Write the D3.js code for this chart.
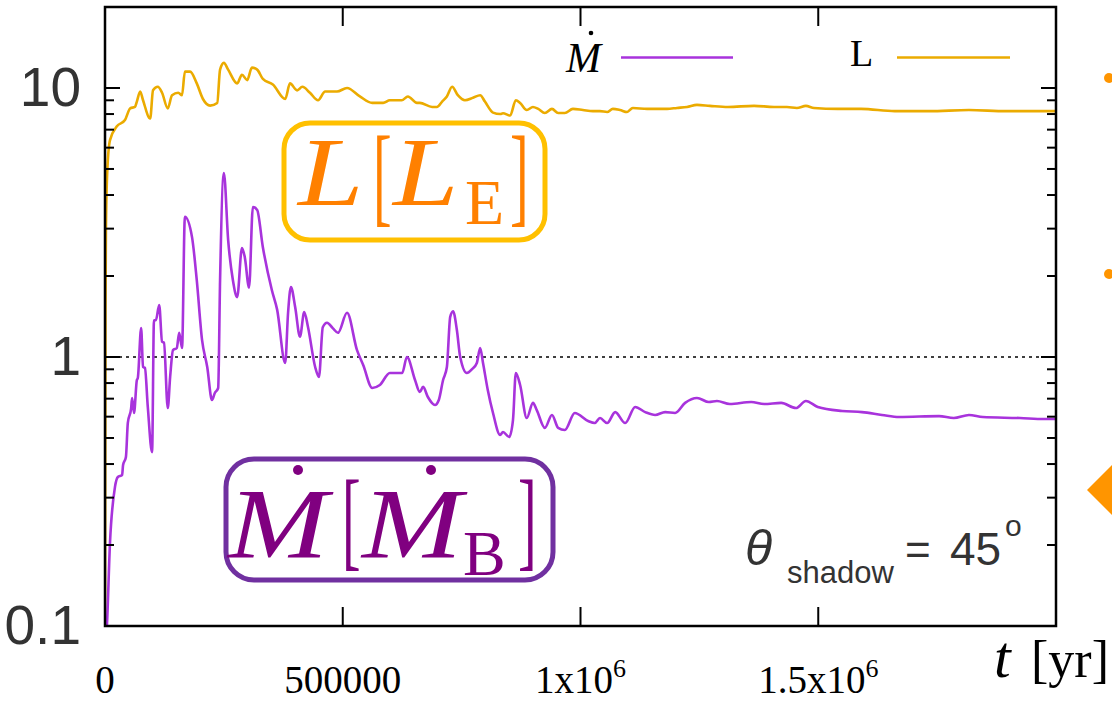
<!DOCTYPE html>
<html lang="en">
<head>
    <meta charset="UTF-8">
    <title>Mdot and L vs t</title>
    <script src="https://d3js.org/d3.v7.min.js"></script>
    <style>
        body, html {
            margin: 0;
            background-color: #ffffff;
            overflow: hidden;
        }
        .serif { font-family: 'Liberation Serif', 'Times New Roman', serif; }
        .sans { font-family: 'Liberation Sans', Arial, sans-serif; }
    </style>
</head>
<body>
<svg id="chart" width="1112" height="704"></svg>

<script>
    // time in kyr, values in units of L_E / Mdot_B
    const lumTime = [0, 1, 2, 5, 10.5, 25, 42, 53, 63, 67, 74, 80, 95, 101, 111, 120, 132, 141, 154, 162,
        168, 179, 193, 206, 221, 236, 242, 250, 259, 278, 288, 299, 309, 320, 332, 353, 379, 389, 404, 415,
        431, 448, 463, 488, 509, 536, 562, 585, 599, 624, 637, 656, 662, 688, 698, 709, 719, 730, 742, 757,
        774, 789, 799, 816, 831, 837, 852, 864, 873, 887, 900, 911, 925, 940, 953, 967, 984, 1005, 1026, 1041,
        1056, 1068, 1083, 1098, 1110, 1140, 1182, 1203, 1224, 1245, 1272, 1310, 1365, 1407, 1434, 1455, 1474, 1491, 1541, 1590,
        1661, 1733, 1817, 1895, 2000];
    const lumValue = [0.1, 1.5, 3.0, 5.0, 6.4, 7.2, 7.6, 8.4, 8.5, 8.9, 9.7, 9.0, 7.7, 9.8, 10.1, 9.6, 8.4, 9.4, 9.6, 9.4,
        11.5, 11.5, 10.4, 9.1, 8.6, 8.8, 11.7, 12.4, 11.7, 10.4, 11.2, 10.7, 11.9, 11.7, 10.8, 10.3, 9.1, 10.4, 9.8, 10.1,
        9.6, 9.0, 9.7, 9.7, 10.0, 9.3, 8.8, 8.8, 9.0, 9.0, 9.3, 8.8, 8.8, 8.5, 8.5, 8.9, 9.3, 10.1, 9.4, 9.0,
        9.2, 9.4, 8.9, 8.1, 8.0, 8.05, 7.9, 9.0, 8.8, 8.28, 8.5, 8.36, 8.07, 8.36, 8.07, 8.07, 8.36, 8.28, 8.2, 8.2,
        8.14, 8.36, 8.28, 8.14, 8.43, 8.36, 8.36, 8.43, 8.5, 8.65, 8.58, 8.5, 8.58, 8.5, 8.5, 8.43, 8.58, 8.43, 8.36, 8.36,
        8.2, 8.2, 8.28, 8.2, 8.2];

    const mdotTime = [0, 4, 10.5, 21, 27, 36, 38, 44, 48, 55, 57, 61, 67, 69, 76, 80, 84, 90, 99, 103,
        107, 114, 120, 124, 132, 137, 143, 151, 156, 162, 168, 183, 193, 204, 215, 225, 231, 238, 242, 250,
        259, 269, 278, 288, 294, 303, 311, 320, 332, 351, 362, 379, 385, 391, 400, 410, 419, 427, 442, 450,
        458, 467, 479, 490, 509, 530, 543, 562, 578, 599, 625, 635, 652, 662, 669, 679, 694, 702, 711, 719,
        726, 732, 740, 747, 761, 772, 782, 789, 795, 805, 816, 831, 837, 850, 858, 864, 873, 887, 900, 908,
        925, 940, 953, 967, 988, 1016, 1030, 1041, 1056, 1073, 1094, 1115, 1136, 1157, 1178, 1199, 1220, 1245, 1270, 1287,
        1314, 1359, 1386, 1422, 1453, 1474, 1499, 1550, 1592, 1634, 1670, 1754, 1785, 1817, 1846, 1924, 1975, 2000];
    const mdotValue = [0.08, 0.1, 0.204, 0.329, 0.358, 0.364, 0.397, 0.425, 0.569, 0.646, 0.704, 0.619, 0.821, 0.835, 1.28, 0.918, 0.91, 0.652, 0.443, 1.37,
        1.37, 1.56, 1.14, 1.13, 0.646, 0.843, 1.06, 1.08, 1.23, 1.08, 3.32, 2.79, 1.93, 1.16, 0.918, 0.692, 0.735, 0.767, 1.93, 4.83,
        2.72, 1.93, 1.67, 2.54, 2.35, 1.81, 3.61, 3.52, 2.56, 1.77, 1.50, 0.95, 1.46, 1.82, 1.53, 1.19, 1.47, 1.29, 0.918, 0.843,
        1.29, 1.34, 1.28, 1.23, 1.46, 1.06, 0.934, 0.767, 0.787, 0.872, 0.872, 1.0, 0.821, 0.741, 0.774, 0.71, 0.663, 0.692, 0.821, 0.918,
        1.41, 1.48, 1.26, 1.0, 0.872, 0.902, 0.95, 1.08, 0.95, 0.754, 0.619, 0.513, 0.526, 0.504, 0.583, 0.872, 0.787, 0.593, 0.675, 0.635,
        0.545, 0.609, 0.545, 0.535, 0.619, 0.578, 0.568, 0.593, 0.568, 0.624, 0.568, 0.652, 0.624, 0.609, 0.624, 0.619, 0.675, 0.704, 0.68, 0.686,
        0.669, 0.68, 0.669, 0.675, 0.646, 0.686, 0.652, 0.630, 0.624, 0.609, 0.598, 0.603, 0.593, 0.609, 0.598, 0.593, 0.588, 0.588];

    const xTickValues = [0, 500000, 1000000, 1500000];
    const xTickLabels = [['0', ''], ['500000', ''], ['1x10', '6'], ['1.5x10', '6']];
    const yTickValues = [10, 1, 0.1];
    const yTickLabels = ['10', '1', '0.1'];

    const colorL = '#ebab00';
    const colorM = '#a833dc';

    const svg = d3.select('#chart');
    const plotLeft = 105, plotRight = 1056, plotTop = 7, plotBottom = 626;

    const x = d3.scaleLinear().domain([0, 2000000]).range([plotLeft, plotRight]);
    const y = d3.scaleLog().domain([0.1, 20]).range([plotBottom, plotTop]);

    svg.append('defs').append('clipPath').attr('id', 'plotclip')
        .append('rect').attr('x', plotLeft).attr('y', plotTop)
        .attr('width', plotRight - plotLeft).attr('height', plotBottom - plotTop);

    // dotted reference line at 1
    svg.append('line')
        .attr('x1', plotLeft).attr('x2', plotRight)
        .attr('y1', y(1)).attr('y2', y(1))
        .attr('stroke', '#000').attr('stroke-width', 1.4)
        .attr('stroke-dasharray', '3,4');

    const line = d3.line()
        .x(d => x(d[0] * 1000))
        .y(d => y(d[1]))
        .curve(d3.curveMonotoneX);

    const plot = svg.append('g').attr('clip-path', 'url(#plotclip)');
    plot.append('path')
        .datum(lumTime.map((t, i) => [t, lumValue[i]]))
        .attr('d', line)
        .attr('fill', 'none').attr('stroke', colorL).attr('stroke-width', 2.6);
    plot.append('path')
        .datum(mdotTime.map((t, i) => [t, mdotValue[i]]))
        .attr('d', line)
        .attr('fill', 'none').attr('stroke', colorM).attr('stroke-width', 2.6);

    // ticks on all four sides, pointing inward
    const yMinor = y.ticks().filter(v => yTickValues.indexOf(v) < 0);
    const axes = svg.append('g').attr('stroke', '#000');
    [[plotLeft, 1], [plotRight, -1]].forEach(([x0, dir]) => {
        yTickValues.forEach(v => axes.append('line')
            .attr('x1', x0).attr('x2', x0 + dir * 15).attr('y1', y(v)).attr('y2', y(v)).attr('stroke-width', 2));
        yMinor.forEach(v => axes.append('line')
            .attr('x1', x0).attr('x2', x0 + dir * 9).attr('y1', y(v)).attr('y2', y(v)).attr('stroke-width', 2));
    });
    [[plotBottom, -1], [plotTop, 1]].forEach(([y0, dir]) => {
        xTickValues.forEach(v => axes.append('line')
            .attr('x1', x(v)).attr('x2', x(v)).attr('y1', y0).attr('y2', y0 + dir * 19).attr('stroke-width', 2));
    });
    svg.append('rect')
        .attr('x', plotLeft).attr('y', plotTop)
        .attr('width', plotRight - plotLeft).attr('height', plotBottom - plotTop)
        .attr('fill', 'none').attr('stroke', '#000').attr('stroke-width', 2.5);

    // y tick labels
    svg.selectAll('.ylab').data(yTickValues).join('text')
        .attr('class', 'ylab sans')
        .attr('x', 81).attr('y', d => y(d) + 18)
        .attr('text-anchor', 'end')
        .attr('font-size', 55).attr('fill', '#333')
        .text((d, i) => yTickLabels[i]);

    // x tick labels
    xTickValues.forEach((v, i) => {
        const t = svg.append('text').attr('class', 'serif')
            .attr('x', x(v)).attr('y', 693)
            .attr('text-anchor', 'middle')
            .attr('font-size', 39).attr('fill', '#000');
        t.append('tspan').text(xTickLabels[i][0]);
        if (xTickLabels[i][1]) {
            t.append('tspan').attr('font-size', 26).attr('dy', -16).text(xTickLabels[i][1]);
        }
    });

    // axis title t [yr]
    svg.append('text').attr('class', 'serif')
        .attr('x', 994).attr('y', 677)
        .attr('font-size', 60).attr('font-style', 'italic').text('t');
    svg.append('text').attr('class', 'serif')
        .attr('x', 1031).attr('y', 677)
        .attr('font-size', 52).text('[yr]');

    // legend
    svg.append('text').attr('class', 'serif')
        .attr('x', 566).attr('y', 72)
        .attr('font-size', 42).attr('font-style', 'italic').text('M');
    svg.append('circle').attr('cx', 591).attr('cy', 33).attr('r', 2.3).attr('fill', '#000');
    svg.append('line').attr('x1', 621).attr('x2', 733).attr('y1', 57.5).attr('y2', 57.5)
        .attr('stroke', colorM).attr('stroke-width', 2.6);
    svg.append('text').attr('class', 'serif')
        .attr('x', 850).attr('y', 66)
        .attr('font-size', 38).text('L');
    svg.append('line').attr('x1', 897).attr('x2', 1010).attr('y1', 57.5).attr('y2', 57.5)
        .attr('stroke', colorL).attr('stroke-width', 2.6);

    // helper for the big boxed labels: glyph placed at (px, py), optionally stretched
    function glyph(g, str, px, py, size, opts) {
        opts = opts || {};
        const sx = opts.sx || 1, sy = opts.sy || 1;
        return g.append('text')
            .attr('transform', `translate(${px},${py}) scale(${sx},${sy})`)
            .attr('font-size', size)
            .attr('font-style', opts.italic ? 'italic' : 'normal')
            .text(str);
    }

    // L [L_E] box
    svg.append('rect').attr('x', 284).attr('y', 123).attr('width', 261).attr('height', 117)
        .attr('rx', 26).attr('fill', 'none').attr('stroke', '#ffc000').attr('stroke-width', 5);
    const lab1 = svg.append('g').attr('class', 'serif').attr('fill', '#ff8000');
    glyph(lab1, 'L', 298, 205, 98, {italic: true, sx: 1.2});
    glyph(lab1, '[', 373, 212, 56, {sy: 1.95});
    glyph(lab1, 'L', 393, 205, 98, {italic: true, sx: 1.2});
    glyph(lab1, 'E', 465, 224, 64);
    glyph(lab1, ']', 510, 212, 56, {sy: 1.95});

    // Mdot [Mdot_B] box
    svg.append('rect').attr('x', 226).attr('y', 459).attr('width', 327).attr('height', 121)
        .attr('rx', 28).attr('fill', 'none').attr('stroke', '#7030a0').attr('stroke-width', 5);
    const lab2 = svg.append('g').attr('class', 'serif').attr('fill', '#800080');
    glyph(lab2, 'M', 228, 557, 100, {italic: true, sx: 1.2});
    lab2.append('circle').attr('cx', 298).attr('cy', 470).attr('r', 5);
    glyph(lab2, '[', 342, 556, 56, {sy: 1.95});
    glyph(lab2, 'M', 362, 557, 100, {italic: true, sx: 1.2});
    lab2.append('circle').attr('cx', 431).attr('cy', 470).attr('r', 5);
    glyph(lab2, 'B', 463, 575, 64);
    glyph(lab2, ']', 518, 556, 56, {sy: 1.95});

    // theta_shadow = 45 deg
    const th = svg.append('g').attr('class', 'sans').attr('fill', '#333');
    th.append('text').attr('x', 745).attr('y', 565).attr('font-size', 50).attr('font-style', 'italic').text('θ');
    th.append('text').attr('x', 787).attr('y', 583).attr('font-size', 31).text('shadow');
    th.append('text').attr('x', 905).attr('y', 565).attr('font-size', 44).text('=');
    th.append('text').attr('x', 950).attr('y', 565).attr('font-size', 46).text('45');
    th.append('text').attr('x', 1005).attr('y', 536).attr('font-size', 30).text('o');

    // markers of the neighbouring panel, cut by the edge
    const side = svg.append('g').attr('fill', '#ff9500');
    side.append('circle').attr('cx', 1109).attr('cy', 78).attr('r', 5);
    side.append('circle').attr('cx', 1109).attr('cy', 274).attr('r', 5);
    side.append('path').attr('d', 'M1087,490 L1112,465 L1112,515 Z');
</script>
</body>
</html>
